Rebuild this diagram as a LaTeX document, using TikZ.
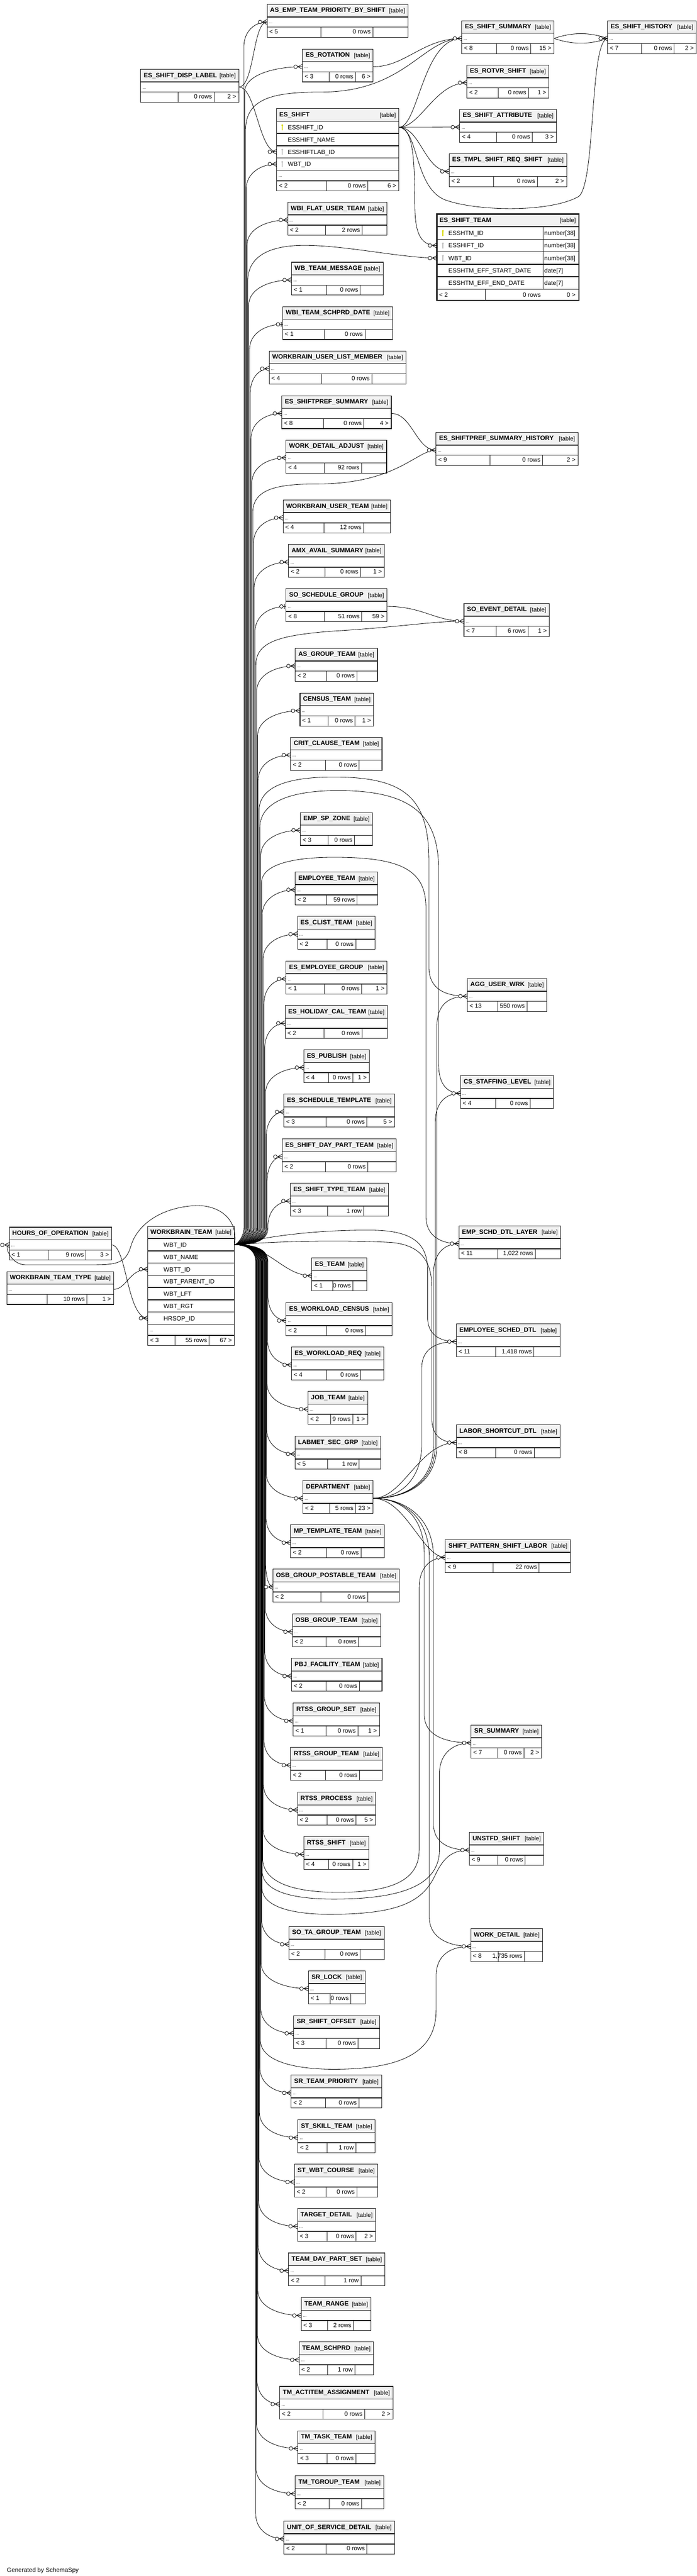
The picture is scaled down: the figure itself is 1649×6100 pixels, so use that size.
\documentclass[tikz,border=0pt]{standalone}
\usepackage{fontspec}
\setmainfont{Liberation Sans}
\usetikzlibrary{calc}
\definecolor{headbg}{HTML}{F2F2F2}
\definecolor{pkkey}{HTML}{D8D800}
\definecolor{fkkey}{HTML}{BDBDBD}
\tikzset{
    tabframe/.style={draw=black!90, line width=1.3pt},
    rowsep/.style={draw=black!90, line width=1.8pt},
    cellsep/.style={draw=black!90, line width=1.2pt},
    rel/.style={draw=black, line width=1pt},
    rowcell/.style={inner sep=0pt, outer sep=0pt, minimum height=24pt},
    tname/.style={anchor=base west, inner sep=0pt, font=\fontsize{15}{18}\selectfont\bfseries},
    ttag/.style={anchor=base east, inner sep=0pt, font=\fontsize{14}{17}\selectfont},
    rowtext/.style={anchor=base west, inner sep=0pt, font=\fontsize{14.5}{17}\selectfont},
    foottext/.style={inner sep=0pt, font=\fontsize{14.5}{17}\selectfont},
    dotcell/.style={anchor=base west, inner sep=0pt, font=\fontsize{10}{12}\selectfont}
}
% name, left, top, right, title, parents, rows, children
\newcommand{\dbtable}[8]{%
    \draw[tabframe, fill=white] (#2,#3) rectangle (#4,#3+78);
    \draw[tabframe, fill=headbg] (#2,#3) rectangle (#4,#3+30);
    \draw[rowsep] (#2,#3+30) -- (#4,#3+30) (#2,#3+54) -- (#4,#3+54);
    \draw[cellsep] ({#2+0.38*(#4-#2)},#3+54) -- ++(0,24) ({#4-0.25*(#4-#2)},#3+54) -- ++(0,24);
    \node[tname] (#1-name) at (#2+7,#3+19) {#5};
    \node[ttag] (#1-tag) at (#4-7,#3+20) {[table]};
    \node[rowcell, minimum width={#4-#2}] (#1) at ({(#2+#4)/2},#3+42) {};
    \node[dotcell] (#1-dots) at (#2+4,#3+46) {...};
    \node[foottext, anchor=base west] (#1-par) at (#2+5,#3+70) {#6};
    \node[foottext, anchor=base east] (#1-rows) at ({#4-0.25*(#4-#2)-5},#3+70) {#7};
    \node[foottext, anchor=base east] (#1-kids) at (#4-6,#3+70) {#8};
}
\newcommand{\keyicon}[3]{%
    \fill[#3] (#1,#2-5) circle (2.4pt) (#1-1,#2-4) rectangle (#1+1,#2+7);
}
\newcommand{\crowfoot}[1]{%
    \draw[rel] ([xshift=-11pt]#1) -- ([yshift=6pt]#1) ([xshift=-11pt]#1) -- ([yshift=-6pt]#1) ([xshift=-11pt]#1) -- (#1);
    \draw[rel, fill=white] ([xshift=-16.5pt]#1) circle (4.3pt);
}
\newcommand{\zeroone}[1]{%
    \draw[rel] ([xshift=-4pt,yshift=6pt]#1) -- ([xshift=-4pt,yshift=-6pt]#1);
    \draw[rel, fill=white] ([xshift=-11pt]#1) circle (4.3pt);
}
% link from WORKBRAIN_TEAM.WBT_ID through the bundle at x = #2
\newcommand{\wtlink}[2]{%
    \draw[rel] let \p1=(wt-id.east), \p2=(#1.west), \n1={ifthenelse(\y2<\y1,1,-1)} in
        (\p1) .. controls ({#2pt-18pt},\y1) and (#2pt,{\y1-(\n1)*16pt}) .. (#2pt,{\y1-(\n1)*40pt})
        -- (#2pt,{\y2+(\n1)*60pt})
        .. controls (#2pt,{\y2+(\n1)*20pt}) and ({0.5*(#2pt+\x2)},\y2) .. (\p2);
}

\begin{document}
\begin{tikzpicture}[x=1pt, y=-1pt]
    \fill[white] (0,0) rectangle (1649,6100);
    \useasboundingbox (0,0) rectangle (1649,6100);

    \dbtable{asemp}{632}{10}{966}{AS\_EMP\_TEAM\_PRIORITY\_BY\_SHIFT}{< 5}{0 rows}{}
    \dbtable{esrot}{716}{116}{883}{ES\_ROTATION}{< 3}{0 rows}{6 >}
    \dbtable{disp}{333}{164}{565}{ES\_SHIFT\_DISP\_LABEL}{}{0 rows}{2 >}
    \dbtable{essum}{1093}{49}{1311}{ES\_SHIFT\_SUMMARY}{< 8}{0 rows}{15 >}
    \dbtable{eshist}{1438}{49}{1648}{ES\_SHIFT\_HISTORY}{< 7}{0 rows}{2 >}
    \dbtable{esrotvr}{1105}{154}{1299}{ES\_ROTVR\_SHIFT}{< 2}{0 rows}{1 >}
    \dbtable{esattr}{1088}{259}{1317}{ES\_SHIFT\_ATTRIBUTE}{< 4}{0 rows}{3 >}
    \dbtable{estmpl}{1063}{364}{1341}{ES\_TMPL\_SHIFT\_REQ\_SHIFT}{< 2}{0 rows}{2 >}
    \dbtable{wbiflat}{681}{479}{916}{WBI\_FLAT\_USER\_TEAM}{< 2}{2 rows}{}
    \dbtable{wbmsg}{690}{621}{907}{WB\_TEAM\_MESSAGE}{< 1}{0 rows}{}
    \dbtable{wbischprd}{669}{726}{929}{WBI\_TEAM\_SCHPRD\_DATE}{< 1}{0 rows}{}
    \dbtable{wbulm}{637}{831}{961}{WORKBRAIN\_USER\_LIST\_MEMBER}{< 4}{0 rows}{}
    \dbtable{espref}{667}{937}{926}{ES\_SHIFTPREF\_SUMMARY}{< 8}{0 rows}{4 >}
    \dbtable{esprefhist}{1032}{1024}{1368}{ES\_SHIFTPREF\_SUMMARY\_HISTORY}{< 9}{0 rows}{2 >}
    \dbtable{wdadj}{677}{1042}{915}{WORK\_DETAIL\_ADJUST}{< 4}{92 rows}{}
    \dbtable{wbut}{670}{1184}{924}{WORKBRAIN\_USER\_TEAM}{< 4}{12 rows}{}
    \dbtable{amx}{683}{1289}{910}{AMX\_AVAIL\_SUMMARY}{< 2}{0 rows}{1 >}
    \dbtable{sosg}{677}{1394}{916}{SO\_SCHEDULE\_GROUP}{< 8}{51 rows}{59 >}
    \dbtable{soevent}{1098}{1429}{1300}{SO\_EVENT\_DETAIL}{< 7}{6 rows}{1 >}
    \dbtable{asgt}{699}{1535}{893}{AS\_GROUP\_TEAM}{< 2}{0 rows}{}
    \dbtable{census}{710}{1641}{884}{CENSUS\_TEAM}{< 1}{0 rows}{1 >}
    \dbtable{critct}{688}{1746}{904}{CRIT\_CLAUSE\_TEAM}{< 2}{0 rows}{}
    \dbtable{empspz}{711}{1924}{882}{EMP\_SP\_ZONE}{< 3}{0 rows}{}
    \dbtable{empteam}{699}{2065}{894}{EMPLOYEE\_TEAM}{< 2}{59 rows}{}
    \dbtable{esclist}{704}{2170}{888}{ES\_CLIST\_TEAM}{< 2}{0 rows}{}
    \dbtable{esempgrp}{677}{2276}{916}{ES\_EMPLOYEE\_GROUP}{< 1}{0 rows}{1 >}
    \dbtable{esholcal}{675}{2381}{917}{ES\_HOLIDAY\_CAL\_TEAM}{< 2}{0 rows}{}
    \dbtable{espub}{719}{2486}{874}{ES\_PUBLISH}{< 4}{0 rows}{1 >}
    \dbtable{esschtpl}{672}{2591}{934}{ES\_SCHEDULE\_TEMPLATE}{< 3}{0 rows}{5 >}
    \dbtable{esdaypart}{668}{2697}{938}{ES\_SHIFT\_DAY\_PART\_TEAM}{< 2}{0 rows}{}
    \dbtable{esshtype}{687}{2802}{919}{ES\_SHIFT\_TYPE\_TEAM}{< 3}{1 row}{}
    \dbtable{agg}{1106}{2317}{1294}{AGG\_USER\_WRK}{< 13}{550 rows}{}
    \dbtable{csstaff}{1090}{2547}{1310}{CS\_STAFFING\_LEVEL}{< 4}{0 rows}{}
    \dbtable{empschd}{1086}{2903}{1327}{EMP\_SCHD\_DTL\_LAYER}{< 11}{1,022 rows}{}
    \dbtable{hrsop}{22}{2906}{264}{HOURS\_OF\_OPERATION}{< 1}{9 rows}{3 >}
    \dbtable{wbtt}{16}{3011}{269}{WORKBRAIN\_TEAM\_TYPE}{}{10 rows}{1 >}
    \dbtable{esteam}{738}{2979}{868}{ES\_TEAM}{< 1}{0 rows}{}
    \dbtable{eswlcen}{677}{3085}{928}{ES\_WORKLOAD\_CENSUS}{< 2}{0 rows}{}
    \dbtable{eswlreq}{690}{3190}{908}{ES\_WORKLOAD\_REQ}{< 4}{0 rows}{}
    \dbtable{empsched}{1080}{3135}{1325}{EMPLOYEE\_SCHED\_DTL}{< 11}{1,418 rows}{}
    \dbtable{jobteam}{729}{3295}{870}{JOB\_TEAM}{< 2}{9 rows}{1 >}
    \dbtable{labshort}{1080}{3374}{1326}{LABOR\_SHORTCUT\_DTL}{< 8}{0 rows}{}
    \dbtable{labmet}{698}{3401}{901}{LABMET\_SEC\_GRP}{< 5}{1 row}{}
    \dbtable{dept}{717}{3506}{883}{DEPARTMENT}{< 2}{5 rows}{23 >}
    \dbtable{mptpl}{688}{3611}{910}{MP\_TEMPLATE\_TEAM}{< 2}{0 rows}{}
    \dbtable{sps}{1054}{3646}{1350}{SHIFT\_PATTERN\_SHIFT\_LABOR}{< 9}{22 rows}{}
    \dbtable{osbpost}{646}{3716}{945}{OSB\_GROUP\_POSTABLE\_TEAM}{< 2}{0 rows}{}
    \dbtable{osbgrp}{692}{3822}{901}{OSB\_GROUP\_TEAM}{< 2}{0 rows}{}
    \dbtable{pbj}{690}{3927}{904}{PBJ\_FACILITY\_TEAM}{< 2}{0 rows}{}
    \dbtable{rtssset}{694}{4033}{898}{RTSS\_GROUP\_SET}{< 1}{0 rows}{1 >}
    \dbtable{srsum}{1115}{4085}{1282}{SR\_SUMMARY}{< 7}{0 rows}{2 >}
    \dbtable{rtssteam}{688}{4138}{905}{RTSS\_GROUP\_TEAM}{< 2}{0 rows}{}
    \dbtable{rtssproc}{704}{4244}{889}{RTSS\_PROCESS}{< 2}{0 rows}{5 >}
    \dbtable{unstfd}{1111}{4339}{1287}{UNSTFD\_SHIFT}{< 9}{0 rows}{}
    \dbtable{rtssshift}{719}{4349}{873}{RTSS\_SHIFT}{< 4}{0 rows}{1 >}
    \dbtable{sotagrp}{684}{4562}{909}{SO\_TA\_GROUP\_TEAM}{< 2}{0 rows}{}
    \dbtable{wd}{1114}{4567}{1284}{WORK\_DETAIL}{< 8}{1,735 rows}{}
    \dbtable{srlock}{730}{4667}{864}{SR\_LOCK}{< 1}{0 rows}{}
    \dbtable{srshoff}{695}{4773}{898}{SR\_SHIFT\_OFFSET}{< 3}{0 rows}{}
    \dbtable{srteampri}{689}{4914}{903}{SR\_TEAM\_PRIORITY}{< 2}{0 rows}{}
    \dbtable{stskill}{705}{5020}{888}{ST\_SKILL\_TEAM}{< 2}{1 row}{}
    \dbtable{stwbt}{697}{5125}{894}{ST\_WBT\_COURSE}{< 2}{0 rows}{}
    \dbtable{target}{704}{5230}{889}{TARGET\_DETAIL}{< 3}{0 rows}{2 >}
    \dbtable{teamdps}{683}{5335}{911}{TEAM\_DAY\_PART\_SET}{< 2}{1 row}{}
    \dbtable{teamrange}{713}{5441}{878}{TEAM\_RANGE}{< 3}{2 rows}{}
    \dbtable{teamschprd}{708}{5546}{884}{TEAM\_SCHPRD}{< 2}{1 row}{}
    \dbtable{tmact}{662}{5651}{930}{TM\_ACTITEM\_ASSIGNMENT}{< 2}{0 rows}{2 >}
    \dbtable{tmtask}{705}{5756}{888}{TM\_TASK\_TEAM}{< 3}{0 rows}{}
    \dbtable{tmtgrp}{699}{5863}{908}{TM\_TGROUP\_TEAM}{< 2}{0 rows}{}
    \dbtable{uos}{672}{5970}{934}{UNIT\_OF\_SERVICE\_DETAIL}{< 2}{0 rows}{}

    % ES_SHIFT
    \draw[tabframe, fill=white] (655,257) rectangle (944,452);
    \draw[tabframe, fill=headbg] (655,257) rectangle (944,287);
    \node[tname] (esshift-name) at (661,276) {ES\_SHIFT};
    \node[ttag] (esshift-tag) at (937,277) {[table]};
    \foreach \r/\txt [count=\i from 0] in {id/ESSHIFT\_ID, nm/ESSHIFT\_NAME, lab/ESSHIFTLAB\_ID, wbt/WBT\_ID}{
        \draw[rowsep] (655,287+29*\i) -- (944,287+29*\i);
        \node[rowcell, minimum width=289, minimum height=29] (esshift-\r) at (799.5,301.5+29*\i) {};
        \node[rowtext] (esshift-\r-txt) at (681,307+29*\i) {\txt};
    }
    \draw[rowsep] (655,403) -- (944,403) (655,428) -- (944,428);
    \node[dotcell] (esshift-dots) at (659,419) {...};
    \draw[cellsep] (773,428) -- (773,452) (870,428) -- (870,452);
    \node[foottext, anchor=base west] (esshift-par) at (660,445) {< 2};
    \node[foottext, anchor=base east] (esshift-rows) at (866,445) {0 rows};
    \node[foottext, anchor=base east] (esshift-kids) at (938,445) {6 >};
    \keyicon{668}{301.5}{pkkey}
    \keyicon{668}{359.5}{fkkey}
    \keyicon{668}{388.5}{fkkey}

    % ES_SHIFT_TEAM
    \draw[tabframe, line width=3pt, fill=white] (1034,507) rectangle (1370,711);
    \fill[headbg] (1035.5,508.5) rectangle (1368.5,537);
    \draw[rowsep] (1034,537) -- (1370,537);
    \node[tname] (estm-name) at (1040,526) {ES\_SHIFT\_TEAM};
    \node[ttag] (estm-tag) at (1363,527) {[table]};
    \foreach \r/\txt/\typ [count=\i from 0] in {pk/ESSHTM\_ID/{number[38]}, esid/ESSHIFT\_ID/{number[38]}, wbt/WBT\_ID/{number[38]}, start/ESSHTM\_EFF\_START\_DATE/{date[7]}, end/ESSHTM\_EFF\_END\_DATE/{date[7]}}{
        \draw[rowsep] (1034,566.6+29.6*\i) -- (1370,566.6+29.6*\i);
        \node[rowcell, minimum width=336, minimum height=29] (estm-\r) at (1202,551.8+29.6*\i) {};
        \node[rowtext] (estm-\r-txt) at (1061,557+29.6*\i) {\txt};
        \node[rowtext] (estm-\r-typ) at (1288,557+29.6*\i) {\typ};
    }
    \draw[cellsep] (1285,537) -- (1285,685) (1149,685) -- (1149,711);
    \node[foottext, anchor=base west] (estm-par) at (1039,703) {< 2};
    \node[foottext, anchor=base east] (estm-rows) at (1280,703) {0 rows};
    \node[foottext, anchor=base east] (estm-kids) at (1362,703) {0 >};
    \keyicon{1048}{551.8}{pkkey}
    \keyicon{1048}{581.4}{fkkey}
    \keyicon{1048}{611}{fkkey}

    % WORKBRAIN_TEAM
    \draw[tabframe, fill=white] (350,2904) rectangle (555,3186);
    \draw[tabframe, fill=headbg] (350,2904) rectangle (555,2933);
    \node[tname] (wt-name) at (356,2922) {WORKBRAIN\_TEAM};
    \node[ttag] (wt-tag) at (548,2923) {[table]};
    \foreach \r/\txt [count=\i from 0] in {id/WBT\_ID, nm/WBT\_NAME, wbtt/WBTT\_ID, par/WBT\_PARENT\_ID, lft/WBT\_LFT, rgt/WBT\_RGT, hrsop/HRSOP\_ID}{
        \draw[rowsep] (350,2933+29*\i) -- (555,2933+29*\i);
        \node[rowcell, minimum width=205, minimum height=29] (wt-\r) at (452.5,2947.5+29*\i) {};
        \node[rowtext] (wt-\r-txt) at (387,2953+29*\i) {\txt};
    }
    \draw[rowsep] (350,3136) -- (555,3136) (350,3162) -- (555,3162);
    \node[dotcell] (wt-dots) at (354,3153) {...};
    \draw[cellsep] (414,3162) -- (414,3186) (495,3162) -- (495,3186);
    \node[foottext, anchor=base west] (wt-par) at (355,3179) {< 3};
    \node[foottext, anchor=base east] (wt-rows) at (490,3179) {55 rows};
    \node[foottext, anchor=base east] (wt-kids) at (549,3179) {67 >};

    \node[foottext, anchor=base west] (credit) at (16,6091) {Generated by SchemaSpy};

    % links through the WORKBRAIN_TEAM bundle
    \foreach \tg/\bx in {esshtype/634, esdaypart/632, esschtpl/630, espub/628.5, esholcal/626.5,
        esempgrp/624.5, esclist/622.5, empteam/620.5, empspz/617, critct/611, census/609.5,
        asgt/607.5, sosg/603.5, amx/601.5, wbut/600, wdadj/596, espref/594, wbulm/592,
        wbischprd/590.5, wbmsg/588.5, wbiflat/584.5, esshift-wbt/582.5, esrot/579, asemp/577,
        eswlcen/634, eswlreq/633, jobteam/632, labmet/631, dept/630, mptpl/629.5, osbpost/628.5,
        osbgrp/627.5, pbj/626.5, rtssset/625.5, rtssteam/624.5, rtssproc/623.5, rtssshift/622.5,
        sotagrp/619, srlock/618, srshoff/617, srteampri/615, stskill/614, stwbt/613, target/612,
        teamdps/611, teamrange/610, teamschprd/609, tmact/608, tmtask/607, tmtgrp/606, uos/605}
        \wtlink{\tg}{\bx};

    \draw[rel] (wt-id.east) .. controls (601,2947.5) and (619,2931.5) .. (619,2907.5) -- (619,2090)
        .. controls (619,2045) and (700,2030) .. (790,2030) .. controls (950,2030) and (1008,2060) .. (1008,2150)
        -- (1008,2880) .. controls (1008,2925) and (1040,2945) .. (empschd.west);
    \draw[rel] (wt-id.east) .. controls (597,2947.5) and (615,2931.5) .. (615,2907.5) -- (615,1960)
        .. controls (615,1890) and (710,1872) .. (800,1872) .. controls (975,1872) and (1038,1930) .. (1038,2060)
        -- (1038,2520) .. controls (1038,2570) and (1060,2589) .. (csstaff.west);
    \draw[rel] (wt-id.east) .. controls (595,2947.5) and (613,2931.5) .. (613,2907.5) -- (613,1920)
        .. controls (613,1855) and (700,1840) .. (790,1840) .. controls (960,1840) and (1015,1890) .. (1015,2040)
        -- (1015,2290) .. controls (1015,2340) and (1050,2359) .. (agg.west);
    \draw[rel] (wt-id.east) .. controls (587.5,2947.5) and (605.5,2931.5) .. (605.5,2907.5) -- (605.5,1575)
        .. controls (605.5,1520) and (660,1505) .. (780,1495) .. controls (950,1485) and (1020,1471) .. (soevent.west);
    \draw[rel] (wt-id.east) .. controls (580,2947.5) and (598,2931.5) .. (598,2907.5) -- (598,1215)
        .. controls (598,1160) and (650,1146) .. (750,1146) .. controls (940,1146) and (985,1066) .. (esprefhist.west);
    \draw[rel] (wt-id.east) .. controls (568.5,2947.5) and (586.5,2931.5) .. (586.5,2907.5) -- (586.5,665)
        .. controls (586.5,600) and (650,581) .. (720,581) .. controls (820,581) and (950,611) .. (estm-wbt.west);
    \draw[rel] (wt-id.east) .. controls (563,2947.5) and (581,2931.5) .. (581,2907.5) -- (581,310)
        .. controls (581,235) and (640,218) .. (760,218) .. controls (960,218) and (1000,91) .. (essum.west);

    \draw[rel] (wt-id.east) .. controls (603.5,2947.5) and (621.5,2963.5) .. (621.5,2987.5) -- (621.5,4400)
        .. controls (621.5,4460) and (700,4481) .. (800,4481) .. controls (950,4481) and (992,4440) .. (992,4380)
        -- (992,3760) .. controls (992,3710) and (1020,3688) .. (sps.west);
    \draw[rel] (wt-id.east) .. controls (602.5,2947.5) and (620.5,2963.5) .. (620.5,2987.5) -- (620.5,4430)
        .. controls (620.5,4482) and (700,4497) .. (790,4497) .. controls (960,4497) and (1040,4460) .. (1040,4380)
        -- (1040,4200) .. controls (1040,4150) and (1075,4127) .. (srsum.west);
    \draw[rel] (wt-id.east) .. controls (602,2947.5) and (620,2963.5) .. (620,2987.5) -- (620,4470)
        .. controls (620,4515) and (690,4533) .. (780,4533) .. controls (940,4533) and (1000,4505) .. (1030,4440)
        .. controls (1050,4398) and (1070,4381) .. (unstfd.west);
    \draw[rel] (wt-id.east) .. controls (598,2947.5) and (616,2963.5) .. (616,2987.5) -- (616,4830)
        .. controls (616,4882) and (700,4900) .. (790,4900) .. controls (950,4900) and (1032,4860) .. (1032,4760)
        -- (1032,4680) .. controls (1032,4630) and (1065,4609) .. (wd.west);

    \draw[rel] (wt-id.east) .. controls (640,2950) and (670,3021) .. (esteam.west);
    \draw[rel] (wt-id.east) .. controls (650,2922) and (780,2912) .. (880,2913) .. controls (985,2914) and (1012,2950) .. (1012,3010)
        -- (1012,3120) .. controls (1012,3160) and (1040,3177) .. (empsched.west);
    \draw[rel] (wt-id.east) .. controls (700,2936) and (850,2938) .. (925,2942) .. controls (995,2948) and (1022,2985) .. (1022,3050)
        -- (1022,3360) .. controls (1022,3400) and (1045,3416) .. (labshort.west);
    \draw[rel] (wt-id.east) .. controls (565,2880) and (510,2852) .. (460,2855) .. controls (380,2860) and (325,2900) .. (310,2950)
        .. controls (298,2990) and (280,2995) .. (220,2995) -- (60,2995) .. controls (25,2995) and (8,2948) .. (hrsop.west);
    \draw[rel] (hrsop.east) .. controls (300,2948) and (300,3121.5) .. (wt-hrsop.west);
    \draw[rel] (wbtt.east) .. controls (300,3053) and (305,3005.5) .. (wt-wbtt.west);

    \draw[rel] (dept.east) .. controls (955,3548) and (992,3416) .. (labshort.west);
    \draw[rel] (dept.east) .. controls (950,3548) and (998,3500) .. (998,3420) -- (998,3240)
        .. controls (998,3195) and (1030,3177) .. (empsched.west);
    \draw[rel] (dept.east) .. controls (960,3548) and (1026,3510) .. (1026,3420) -- (1026,3015)
        .. controls (1026,2970) and (1050,2945) .. (empschd.west);
    \draw[rel] (dept.east) .. controls (962,3548) and (1030,3510) .. (1030,3420) -- (1030,2660)
        .. controls (1030,2610) and (1055,2589) .. (csstaff.west);
    \draw[rel] (dept.east) .. controls (965,3548) and (1034,3510) .. (1034,3420) -- (1034,2430)
        .. controls (1034,2380) and (1060,2359) .. (agg.west);
    \draw[rel] (dept.east) .. controls (960,3548) and (1000,3688) .. (sps.west);
    \draw[rel] (dept.east) .. controls (950,3548) and (1004,3590) .. (1004,3680) -- (1004,4060)
        .. controls (1004,4105) and (1045,4127) .. (srsum.west);
    \draw[rel] (dept.east) .. controls (955,3548) and (1026,3590) .. (1026,3690) -- (1026,4320)
        .. controls (1026,4362) and (1060,4381) .. (unstfd.west);
    \draw[rel] (dept.east) .. controls (952,3548) and (1016,3590) .. (1016,3690) -- (1016,4540)
        .. controls (1016,4588) and (1060,4609) .. (wd.west);

    \draw[rel] (esshift-id.east) .. controls (990,301.5) and (1000,91) .. (essum.west);
    \draw[rel] (esshift-id.east) .. controls (995,301.5) and (1030,196) .. (esrotvr.west);
    \draw[rel] (esshift-id.east) -- (esattr.west);
    \draw[rel] (esshift-id.east) .. controls (995,301.5) and (1005,406) .. (estmpl.west);
    \draw[rel] (esshift-id.east) .. controls (985,301.5) and (980,420) .. (982,500)
        .. controls (984,560) and (1000,581.4) .. (estm-esid.west);
    \draw[rel] (esshift-id.east) .. controls (990,305) and (980,440) .. (1050,472)
        .. controls (1120,500) and (1300,505) .. (1370,465) .. controls (1410,430) and (1395,95) .. (eshist.west);
    \draw[rel] (esrot.east) .. controls (960,158) and (1000,91) .. (essum.west);
    \draw[rel] (essum.east) .. controls (1355,76) and (1395,76) .. (eshist.west);
    \draw[rel] (essum.east) .. controls (1355,106) and (1395,106) .. (eshist.west);
    \draw[rel] (disp.east) .. controls (602,206) and (598,52) .. (asemp.west);
    \draw[rel] (disp.east) .. controls (606,206) and (612,359.5) .. (esshift-lab.west);
    \draw[rel] (espref.east) .. controls (975,979) and (985,1066) .. (esprefhist.west);
    \draw[rel] (sosg.east) .. controls (1000,1436) and (1030,1471) .. (soevent.west);

    \foreach \c in {asemp, esrot, esshift-lab, esshift-wbt, wbiflat, wbmsg, wbulm, espref, wdadj, wbut, amx,
        asgt, census, critct, empspz, empteam, esclist, esempgrp, esholcal, espub, esschtpl, esdaypart,
        esshtype, esteam, eswlcen, eswlreq, jobteam, labmet, dept, mptpl, osbpost, osbgrp, pbj, rtssset,
        rtssteam, rtssproc, rtssshift, sotagrp, srlock, srshoff, srteampri, stskill, stwbt, target, teamdps,
        teamrange, teamschprd, tmact, tmtask, tmtgrp, uos, essum, eshist, esrotvr, esattr, estmpl, estm-esid,
        estm-wbt, esprefhist, soevent, agg, csstaff, empschd, empsched, labshort, sps, srsum, unstfd, wd,
        hrsop, wt-wbtt, wt-hrsop}
        \crowfoot{\c.west};
    \foreach \c in {sosg, wbischprd}
        \zeroone{\c.west};
\end{tikzpicture}
\end{document}
